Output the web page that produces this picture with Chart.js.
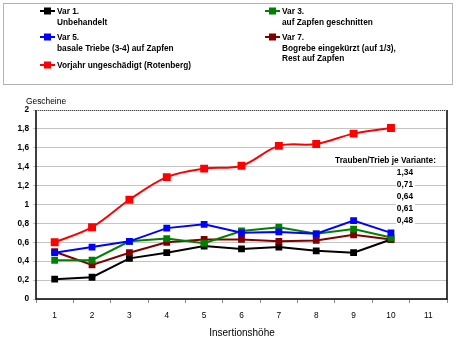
<!DOCTYPE html>
<html>
<head>
<meta charset="utf-8">
<script src="https://cdn.jsdelivr.net/npm/chart.js@4/dist/chart.umd.min.js"></script>
<style>
  html, body { margin: 0; padding: 0; background: #fff; }
  #wrap { width: 462px; height: 344px; position: relative; }
</style>
</head>
<body>
<div id="wrap"><canvas id="chart" width="462" height="344"></canvas></div>
<script>
const heights = ['1', '2', '3', '4', '5', '6', '7', '8', '9', '10', '11'];
const var1 = [0.21, 0.23, 0.43, 0.49, 0.56, 0.53, 0.55, 0.51, 0.49, 0.63];
const var3 = [0.41, 0.41, 0.61, 0.64, 0.59, 0.72, 0.76, 0.69, 0.74, 0.65];
const var5 = [0.49, 0.55, 0.61, 0.75, 0.79, 0.70, 0.71, 0.69, 0.83, 0.70];
const var7 = [0.50, 0.36, 0.49, 0.60, 0.63, 0.63, 0.61, 0.62, 0.68, 0.63];
const vorjahr = [0.60, 0.76, 1.05, 1.29, 1.38, 1.41, 1.62, 1.64, 1.75, 1.81];
const perVariant = ['1,34', '0,71', '0,64', '0,61', '0,48'];

const FONT = '"Liberation Sans", Arial, sans-serif';

const legendItems = [
  { color: '#000000', x: 40, y: 12, lines: ['Var 1.', 'Unbehandelt'] },
  { color: '#008000', x: 265, y: 12, lines: ['Var 3.', 'auf Zapfen geschnitten'] },
  { color: '#0000ff', x: 40, y: 38, lines: ['Var 5.', 'basale Triebe (3-4) auf Zapfen'] },
  { color: '#800000', x: 265, y: 38, lines: ['Var 7.', 'Bogrebe eingekürzt (auf 1/3),', 'Rest auf Zapfen'] },
  { color: '#ff0000', x: 40, y: 66, lines: ['Vorjahr ungeschädigt (Rotenberg)'] }
];

const decor = {
  id: 'decor',
  afterDraw(chart) {
    const ctx = chart.ctx;
    const a = chart.chartArea;
    ctx.save();
    // legend box
    ctx.strokeStyle = '#666';
    ctx.lineWidth = 1;
    ctx.setLineDash([1, 1]);
    ctx.strokeRect(3.5, 3.5, 449, 81);
    ctx.setLineDash([]);
    ctx.font = 'bold 8.3px ' + FONT;
    ctx.textBaseline = 'middle';
    ctx.textAlign = 'left';
    legendItems.forEach(it => {
      ctx.strokeStyle = it.color;
      ctx.lineWidth = 2;
      ctx.beginPath();
      ctx.moveTo(it.x, it.y - 1);
      ctx.lineTo(it.x + 15, it.y - 1);
      ctx.stroke();
      ctx.fillStyle = it.color;
      ctx.fillRect(it.x + 4, it.y - 4.5, 7, 7);
      ctx.fillStyle = '#000';
      it.lines.forEach((t, i) => ctx.fillText(t, it.x + 17, it.y + i * 10.5));
    });
    // plot frame
    ctx.strokeStyle = '#000';
    ctx.lineWidth = 1.5;
    ctx.beginPath();
    ctx.moveTo(a.left, a.top);
    ctx.lineTo(a.left, a.bottom);
    ctx.lineTo(a.right, a.bottom);
    ctx.lineTo(a.right, a.top);
    ctx.stroke();
    ctx.lineWidth = 1;
    ctx.setLineDash([1, 1]);
    ctx.strokeStyle = '#444';
    ctx.beginPath();
    ctx.moveTo(a.left, a.top + 0.5);
    ctx.lineTo(a.right, a.top + 0.5);
    ctx.stroke();
    ctx.setLineDash([]);
    // axis titles
    ctx.fillStyle = '#000';
    ctx.font = '8.4px ' + FONT;
    ctx.textAlign = 'left';
    ctx.fillText('Gescheine', 26, 102);
    ctx.font = '10px ' + FONT;
    ctx.textAlign = 'center';
    ctx.fillText('Insertionshöhe', 242, 333);
    ctx.restore();
  }
};

const notes = {
  id: 'notes',
  afterDatasetsDraw(chart) {
    const ctx = chart.ctx;
    ctx.save();
    ctx.font = 'bold 8.3px ' + FONT;
    ctx.textBaseline = 'middle';
    ctx.textAlign = 'right';
    ctx.fillStyle = '#fff';
    ctx.fillRect(332, 155, 106, 11);
    ctx.fillStyle = '#000';
    ctx.fillText('Trauben/Trieb je Variante:', 436, 161);
    perVariant.forEach((t, i) => {
      const y = 173 + i * 12;
      ctx.fillStyle = '#fff';
      ctx.fillRect(396, y - 5, 19, 10);
      ctx.fillStyle = '#000';
      ctx.fillText(t, 413, y);
    });
    ctx.restore();
  }
};

const mk = (label, data, color, extra) => Object.assign({
  label, data,
  borderColor: color,
  backgroundColor: color,
  borderWidth: 2,
  pointStyle: 'rect',
  pointRadius: 4.8,
  pointBorderWidth: 0,
  tension: 0
}, extra || {});

new Chart(document.getElementById('chart'), {
  type: 'line',
  data: {
    labels: heights,
    datasets: [
      mk('Vorjahr ungeschädigt (Rotenberg)', vorjahr, '#ff0000', { tension: 0.35, pointRadius: 5.6 }),
      mk('Var 5.', var5, '#0000ff'),
      mk('Var 3.', var3, '#008000'),
      mk('Var 7.', var7, '#800000'),
      mk('Var 1.', var1, '#000000')
    ]
  },
  options: {
    responsive: false,
    animation: false,
    layout: { padding: { left: 0, right: 15, top: 110, bottom: 0 } },
    plugins: { legend: { display: false }, tooltip: { enabled: false } },
    scales: {
      x: {
        type: 'category',
        offset: true,
        afterFit: s => { s.height = 45; },
        grid: { offset: true, drawOnChartArea: false, drawTicks: true, tickLength: 4, color: '#888' },
        border: { display: false },
        ticks: { color: '#000', font: { family: FONT, size: 8.3 }, padding: 8, maxRotation: 0 }
      },
      y: {
        min: 0, max: 2,
        afterFit: s => { s.width = 36; },
        grid: { color: '#c4c4c4', lineWidth: 1, tickLength: 3 },
        border: { display: false },
        ticks: {
          stepSize: 0.2, color: '#000', padding: 4,
          font: { family: FONT, size: 8.3, weight: 'bold' },
          callback: v => String(Math.round(v * 10) / 10).replace('.', ',')
        }
      }
    }
  },
  plugins: [decor, notes]
});
</script>
</body>
</html>
